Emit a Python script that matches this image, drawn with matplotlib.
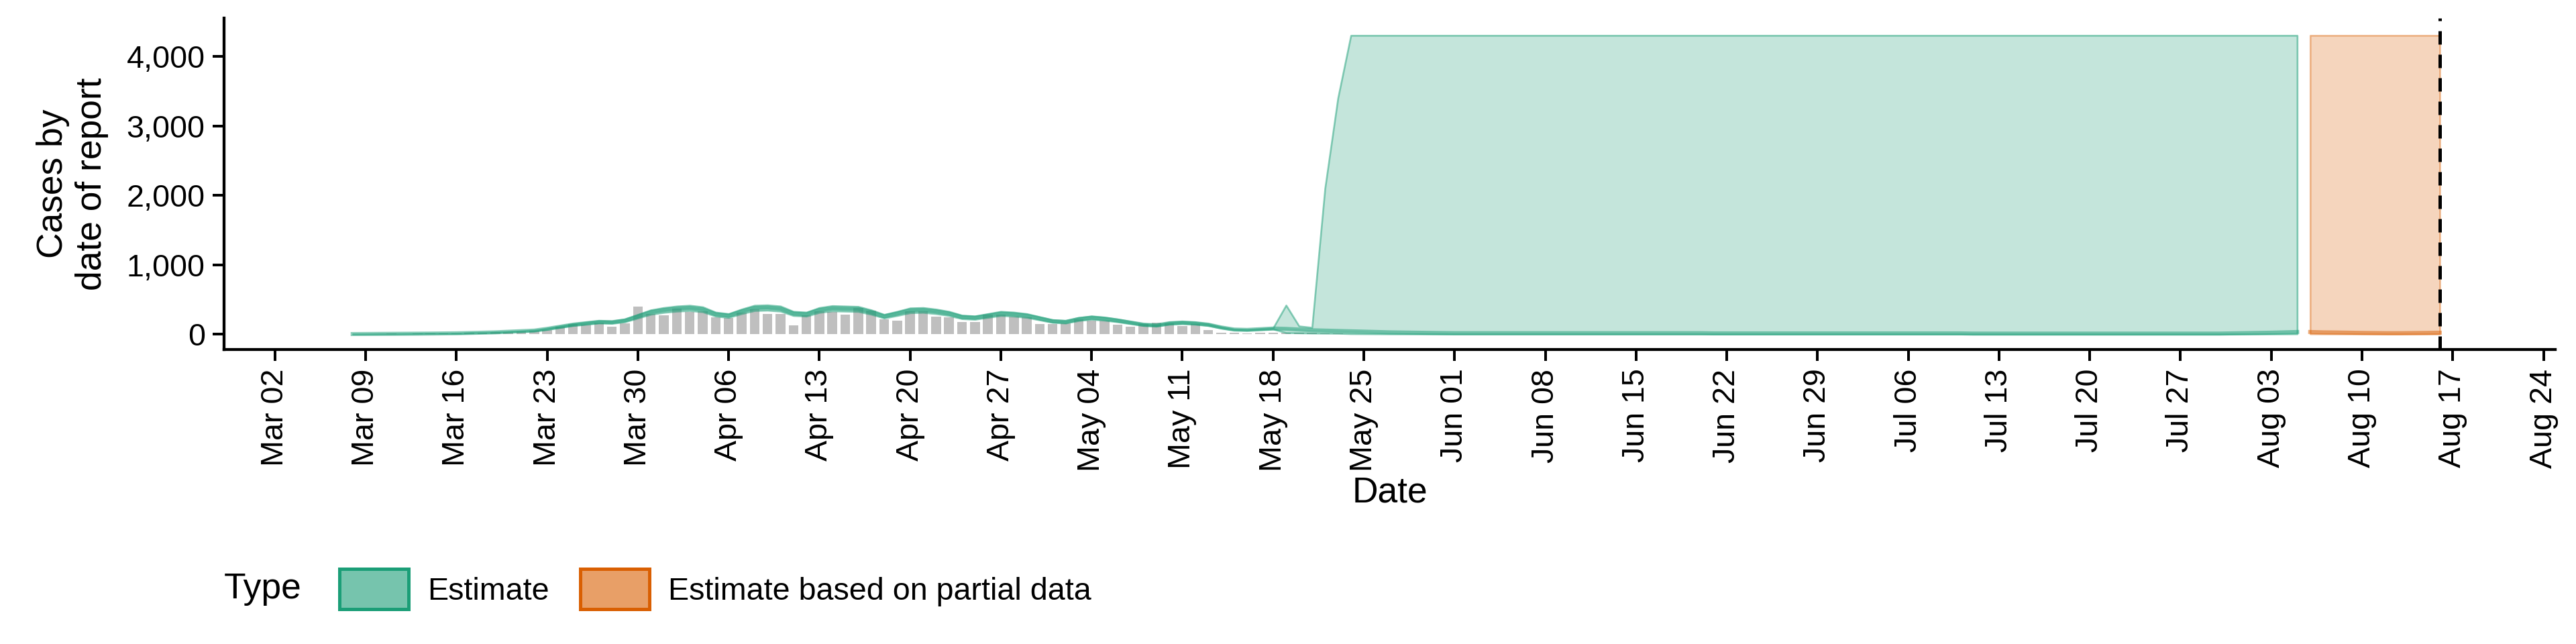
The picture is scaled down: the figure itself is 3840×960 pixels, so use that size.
import numpy as np
import pandas as pd
import matplotlib
matplotlib.use("Agg")
import matplotlib.pyplot as plt
from matplotlib.patches import Patch

plt.rcParams['font.family'] = ['Liberation Sans', 'DejaVu Sans']

# Reported cases (bars), Mar 08 .. May 26
report_start = "2020-03-08"
reports = [5, 8, 6, 10, 8, 10, 12, 15, 18, 20, 25, 30, 35, 40,
           50, 60, 110, 150, 140, 165, 115, 155, 405, 290, 270, 375, 320, 335,
           245, 240, 310, 360, 295, 290, 130, 270, 330, 325, 285, 385, 340, 215,
           200, 330, 330, 260, 245, 175, 175, 285, 280, 255, 245, 145, 145, 155,
           220, 195, 200, 135, 110, 145, 165, 155, 120, 150, 65, 20, 20, 15,
           20, 25, 25, 25, 20, 15, 10, 8, 5, 5]

# Estimate (green) Mar 08 .. Aug 05
est_start = "2020-03-08"
median_early = [5, 6, 8, 8, 9, 10, 12, 14, 16, 20, 25, 30, 38, 45,
                55, 80, 110, 140, 160, 180, 175, 200, 260, 320, 350, 370, 380, 360,
                290, 270, 330, 380, 385, 370, 300, 290, 350, 375, 370, 365, 320, 260,
                300, 345, 350, 330, 300, 250, 240, 270, 300, 290, 270, 230, 190, 180,
                220, 240, 225, 200, 170, 140, 130, 160, 170, 160, 140, 100, 70, 65,
                75, 85, 80, 70, 60, 55, 50]
upper_early_tail = [420, 120, 100, 2100, 3400]  # May 19..May 23 upper bound
n_late = 74  # May 24 .. Aug 05
median_late = [45, 40, 35, 30, 28, 25, 22, 20] + [18] * 20 + [15] * 20 + [12] * 20 + [15, 18, 20, 25, 30, 35]
upper_late = [4300] * n_late

# Estimate based on partial data (orange) Aug 06 .. Aug 16
partial_start = "2020-08-06"
partial_median = [35, 30, 28, 25, 22, 20, 18, 18, 20, 22, 25]
partial_upper = [4300] * 11

GREEN = "#1B9E77"
ORANGE = "#D95F02"

fig = plt.figure(figsize=(16, 4), dpi=240)
ax = fig.add_axes([0.087, 0.457, 0.905, 0.515])

rd = pd.date_range(report_start, periods=len(reports))
ax.bar(rd, reports, width=0.75, color="#8C8C8C", alpha=0.55, zorder=2)

n_early = len(median_early)
ed_early = pd.date_range(est_start, periods=n_early)
med_e = np.array(median_early, dtype=float)
up_e = med_e * 1.1
lo_e = med_e * 0.9
up_e[-5:] = upper_early_tail
lo_e[-5:] = med_e[-5:] * 0.3
ed_late = pd.date_range(ed_early[-1] + pd.Timedelta(days=1), periods=n_late)
med_l = np.array(median_late[:n_late], dtype=float)
up_l = np.array(upper_late, dtype=float)
lo_l = med_l * 0.2

dates = ed_early.append(ed_late)
median = np.concatenate([med_e, med_l])
upper = np.concatenate([up_e, up_l])
lower = np.concatenate([lo_e, lo_l])

ax.fill_between(dates, lower, upper, facecolor=(0.106, 0.62, 0.467, 0.26),
                edgecolor=(0.106, 0.62, 0.467, 0.5), lw=0.8, zorder=3)
ax.fill_between(dates, median * 0.95, median * 1.05, color=GREEN, alpha=0.3, lw=0, zorder=3)
ax.plot(dates, median, color=GREEN, lw=1.8, alpha=0.5, zorder=4)

pd_dates = pd.date_range(partial_start, periods=len(partial_median))
pm = np.array(partial_median, dtype=float)
ax.fill_between(pd_dates, pm * 0.2, partial_upper, facecolor=(0.851, 0.373, 0.008, 0.26),
                edgecolor=(0.851, 0.373, 0.008, 0.4), lw=0.8, zorder=3)
ax.plot(pd_dates, pm, color=ORANGE, lw=1.8, alpha=0.5, zorder=4)

ax.axvline(pd.Timestamp("2020-08-16"), color="black", ls=(0, (4, 3)), lw=1.5, zorder=5)

ax.set_xlim(pd.Timestamp("2020-02-27 02:00"), pd.Timestamp("2020-08-24 22:00"))
ax.set_ylim(-220, 4550)
ax.set_yticks([0, 1000, 2000, 3000, 4000])
ax.yaxis.set_major_formatter(matplotlib.ticker.FuncFormatter(lambda v, p: f"{int(v):,}"))
ticks = pd.date_range("2020-03-02", "2020-08-24", freq="7D")
ax.set_xticks(ticks)
ax.set_xticklabels([t.strftime("%b %d") for t in ticks], rotation=90)
ax.tick_params(labelsize=14, length=5, width=1.2, colors="black")
for s in ["top", "right"]:
    ax.spines[s].set_visible(False)
for s in ["left", "bottom"]:
    ax.spines[s].set_linewidth(1.3)
ax.set_xlabel("Date", fontsize=16, labelpad=2)
ax.set_ylabel("Cases by\ndate of report", fontsize=16, labelpad=8)

fig.text(0.087, 0.085, "Type", fontsize=16, va="center", ha="left")
handles = [Patch(facecolor=(0.106, 0.62, 0.467, 0.6), edgecolor=GREEN, lw=1.5, label="Estimate"),
           Patch(facecolor=(0.851, 0.373, 0.008, 0.6), edgecolor=ORANGE, lw=1.5,
                 label="Estimate based on partial data")]
fig.legend(handles=handles, loc="center left", bbox_to_anchor=(0.127, 0.085), ncol=2,
           frameon=False, fontsize=14, handlelength=2.2, handleheight=1.6,
           columnspacing=1.0, handletextpad=0.6, borderaxespad=0)
fig.savefig("out.png", dpi=240)
